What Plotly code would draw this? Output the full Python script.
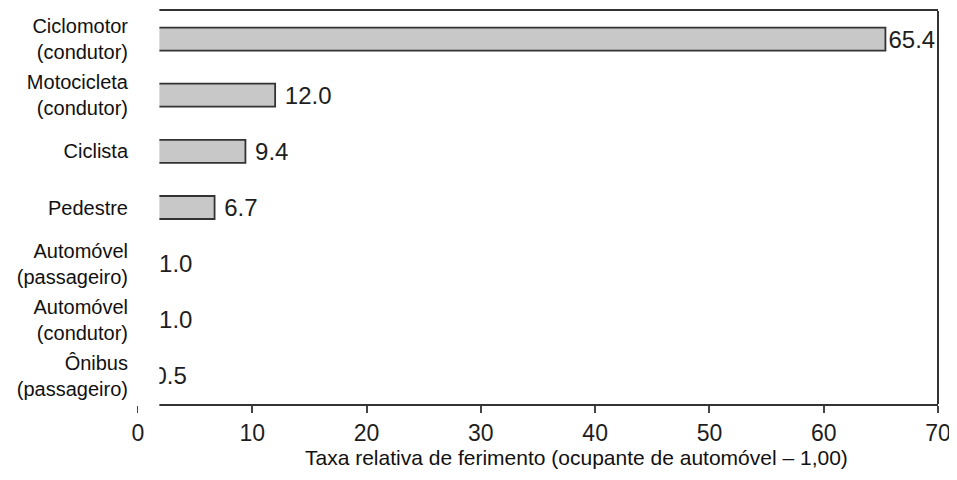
import plotly.graph_objects as go

categories = [
    "Ciclomotor<br>(condutor)",
    "Motocicleta<br>(condutor)",
    "Ciclista",
    "Pedestre",
    "Automóvel<br>(passageiro)",
    "Automóvel<br>(condutor)",
    "Ônibus<br>(passageiro)",
]
values = [65.4, 12.0, 9.4, 6.7, 1.0, 1.0, 0.5]
x_ticks = [0, 10, 20, 30, 40, 50, 60, 70]
x_title = "Taxa relativa de ferimento (ocupante de automóvel – 1,00)"

X_MAX = 70
CUT = 1.87  # left part of the frame is cropped in the original figure

labels = [("\u00a0" if v < 60 else "") + f"{v:.1f}" for v in values]

FONT = "Liberation Sans, Arial, Helvetica, sans-serif"

fig = go.Figure(
    go.Bar(
        x=values,
        y=categories,
        orientation="h",
        marker=dict(color="#c8c8c9", line=dict(color="#333333", width=1.8)),
        text=labels,
        textposition="outside",
        constraintext="none",
        textfont=dict(family=FONT, size=24, color="#1e1e1e"),
        cliponaxis=True,
        hoverinfo="skip",
    )
)

# page body has an 8px default margin: the figure is sized so that it fills the 957x480 window
fig.update_layout(
    width=949,
    height=472,
    margin=dict(l=130, r=19, t=3, b=76, autoexpand=False),
    paper_bgcolor="white",
    plot_bgcolor="white",
    bargap=0.59,
    showlegend=False,
    font=dict(family=FONT, color="#111111"),
    xaxis=dict(
        range=[0, X_MAX],
        tickvals=x_ticks,
        ticktext=[str(t) for t in x_ticks],
        ticks="outside",
        ticklen=7,
        tickwidth=1.6,
        tickcolor="#444444",
        tickfont=dict(family=FONT, size=23, color="#1e1e1e"),
        showline=True,
        linecolor="#333333",
        linewidth=2,
        mirror=True,
        showgrid=False,
        zeroline=False,
        automargin=False,
        fixedrange=True,
    ),
    yaxis=dict(
        autorange="reversed",
        showgrid=False,
        zeroline=False,
        showline=False,
        ticks="",
        ticklabelstandoff=9,
        tickfont=dict(family=FONT, size=20, color="#111111"),
        automargin=False,
        fixedrange=True,
    ),
    shapes=[
        # right frame line
        dict(type="line", xref="paper", yref="paper", x0=1, x1=1, y0=0, y1=1,
             line=dict(color="#333333", width=2), layer="above"),
        # white cover hiding the cropped left strip of the plot
        dict(type="rect", xref="x", yref="paper", x0=0, x1=CUT, y0=-0.025, y1=1.03,
             fillcolor="white", line=dict(width=0), layer="above"),
    ],
    annotations=[
        dict(text=x_title, xref="paper", yref="paper", x=0.548, y=-0.137,
             xanchor="center", yanchor="middle", showarrow=False,
             font=dict(family=FONT, size=21, color="#111111")),
    ],
)

fig.write_html("out.html")
